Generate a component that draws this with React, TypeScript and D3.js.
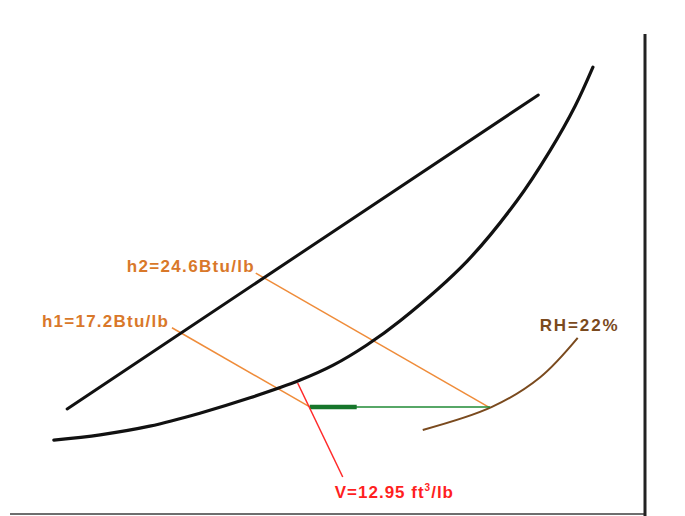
import React from "react";
import * as d3 from "d3";

// Schematic psychrometric chart, coordinates in percent of the plot frame
type P = { x: number; y: number };

const saturationCurve: P[] = [
  { x: 6.9, y: 15.4 }, { x: 14.2, y: 16.5 }, { x: 22.0, y: 18.3 }, { x: 29.9, y: 21.0 },
  { x: 37.8, y: 24.2 }, { x: 45.7, y: 27.9 }, { x: 50.9, y: 31.0 }, { x: 56.2, y: 35.2 },
  { x: 61.4, y: 40.2 }, { x: 72.0, y: 52.7 }, { x: 79.8, y: 65.2 }, { x: 85.0, y: 75.6 },
  { x: 89.0, y: 85.0 }, { x: 91.8, y: 93.1 },
];
const enthalpyScale: P[] = [{ x: 9.0, y: 21.9 }, { x: 83.2, y: 87.3 }];
const h2Line: P[] = [{ x: 38.7, y: 50.2 }, { x: 75.6, y: 22.1 }];
const h1Line: P[] = [{ x: 25.5, y: 38.8 }, { x: 47.2, y: 22.3 }];
const heatingLine: P[] = [{ x: 47.2, y: 22.3 }, { x: 75.6, y: 22.3 }];
const heatingThick: P[] = [{ x: 47.2, y: 22.3 }, { x: 54.6, y: 22.3 }];
const volumeLine: P[] = [{ x: 45.3, y: 27.3 }, { x: 52.4, y: 7.7 }];
const rhCurve: P[] = [{ x: 65.0, y: 17.5 }, { x: 75.9, y: 22.3 }, { x: 83.5, y: 28.5 }, { x: 89.4, y: 36.7 }];

const labelH2 = "h2=24.6Btu/lb";
const labelH1 = "h1=17.2Btu/lb";
const labelRH = "RH=22%";
const labelV = ["V=12.95 ft", "3", "/lb"];

export default function App() {
  const W = 685, H = 516;
  const xs = d3.scaleLinear().domain([0, 100]).range([10, 645]);
  const ys = d3.scaleLinear().domain([0, 100]).range([514, 34]);
  const straight = d3.line<P>().x(d => xs(d.x)).y(d => ys(d.y));
  const smooth = d3.line<P>().x(d => xs(d.x)).y(d => ys(d.y)).curve(d3.curveCatmullRom.alpha(0.5));
  const font = "'Liberation Sans', Arial, Helvetica, sans-serif";
  const orangeLine = "#ef8c3a";
  const orangeText = "#d9782a";

  return (
    <svg width={W} height={H} style={{ position: "absolute", left: 0, top: 0, background: "#fff" }}>
      <rect width={W} height={H} fill="#fff" />
      {/* frame */}
      <line x1={xs(0)} x2={xs(100)} y1={ys(0)} y2={ys(0)} stroke="#6e6e6e" strokeWidth={2} />
      <line x1={xs(100)} x2={xs(100)} y1={ys(100)} y2={H} stroke="#222" strokeWidth={3} />

      {/* orange enthalpy lines */}
      <path d={straight(h2Line)!} stroke={orangeLine} strokeWidth={1.5} fill="none" />
      <path d={straight(h1Line)!} stroke={orangeLine} strokeWidth={1.5} fill="none" />

      {/* black lines */}
      <path d={straight(enthalpyScale)!} stroke="#111" strokeWidth={3} fill="none" strokeLinecap="round" />
      <path d={smooth(saturationCurve)!} stroke="#111" strokeWidth={3.2} fill="none" strokeLinecap="round" />

      {/* RH curve */}
      <path d={smooth(rhCurve)!} stroke="#7a4a1e" strokeWidth={2} fill="none" />

      {/* heating line */}
      <path d={straight(heatingLine)!} stroke="#1f8a35" strokeWidth={1.5} fill="none" />
      <path d={straight(heatingThick)!} stroke="#16762b" strokeWidth={4.5} fill="none" />

      {/* specific volume line */}
      <path d={straight(volumeLine)!} stroke="#ff2a2a" strokeWidth={1.5} fill="none" />

      {/* labels */}
      <text x={xs(h2Line[0].x) - 2} y={ys(h2Line[0].y) - 1} textAnchor="end" fontFamily={font}
        fontWeight="bold" fontSize={17} fill={orangeText} textLength={127} lengthAdjust="spacing">{labelH2}</text>
      <text x={xs(h1Line[0].x) - 4} y={ys(h1Line[0].y) - 1} textAnchor="end" fontFamily={font}
        fontWeight="bold" fontSize={17} fill={orangeText} textLength={126} lengthAdjust="spacing">{labelH1}</text>
      <text x={xs(rhCurve[3].x) - 38} y={ys(rhCurve[3].y) - 7} fontFamily={font}
        fontWeight="bold" fontSize={17} fill="#7a4a1e" textLength={78} lengthAdjust="spacing">{labelRH}</text>
      <text x={xs(volumeLine[1].x) - 8} y={ys(volumeLine[1].y) + 21} fontFamily={font}
        fontWeight="bold" fontSize={17} fill="#ff1f1f" letterSpacing={1}>
        {labelV[0]}
        <tspan dy={-7} fontSize={10}>{labelV[1]}</tspan>
        <tspan dy={7}>{labelV[2]}</tspan>
      </text>
    </svg>
  );
}
